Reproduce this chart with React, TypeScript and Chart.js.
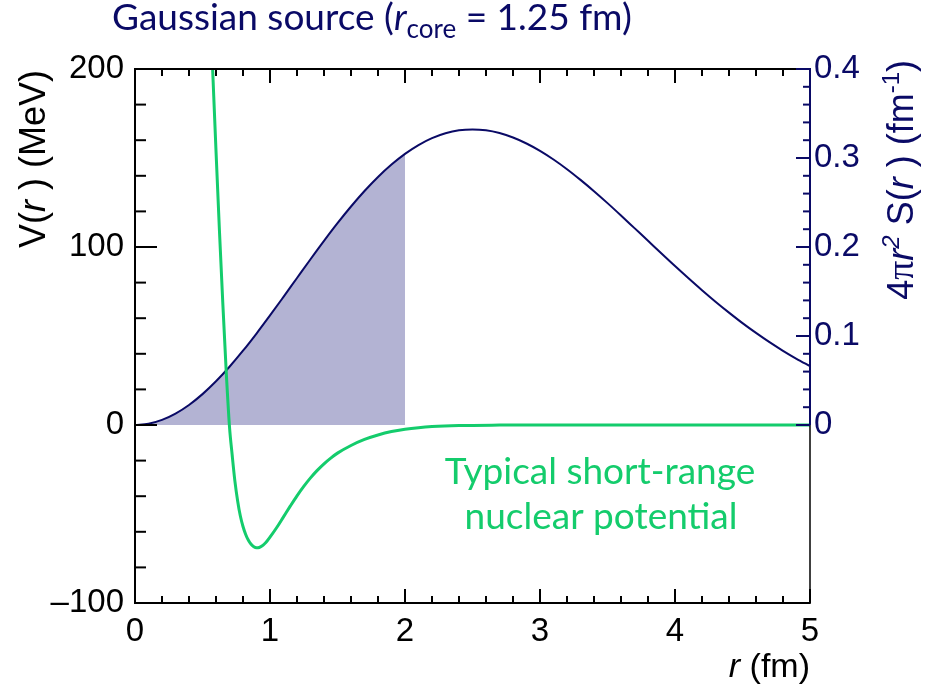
import React, { useEffect, useRef } from 'react';
import { Chart, registerables } from 'chart.js';

Chart.register(...registerables);

// ---- data ----
const sourceR = [
  0, 0.1, 0.2, 0.3, 0.4, 0.5, 0.6, 0.7, 0.8, 0.9,
  1.0, 1.1, 1.2, 1.3, 1.4, 1.5, 1.6, 1.7, 1.8, 1.9,
  2.0, 2.1, 2.2, 2.3, 2.4, 2.5, 2.6, 2.7, 2.8, 2.9,
  3.0, 3.1, 3.2, 3.3, 3.4, 3.5, 3.6, 3.7, 3.8, 3.9,
  4.0, 4.1, 4.2, 4.3, 4.4, 4.5, 4.6, 4.7, 4.8, 4.9, 5.0,
];
const sourceValues = [
  0, 0.00144, 0.00574, 0.01281, 0.02253, 0.03469, 0.04909, 0.06544, 0.08344, 0.10278,
  0.12308, 0.14401, 0.16519, 0.18628, 0.20689, 0.22675, 0.24549, 0.2629, 0.2787, 0.29263,
  0.30465, 0.31455, 0.3223, 0.3278, 0.3311, 0.3321, 0.3311, 0.328, 0.323, 0.3163,
  0.308, 0.2983, 0.2874, 0.2754, 0.2627, 0.2493, 0.2354, 0.2212, 0.207, 0.1927,
  0.1786, 0.1649, 0.1515, 0.1386, 0.1263, 0.1145, 0.1035, 0.0931, 0.0834, 0.0744, 0.0661,
];
const shadeMaxR = 2.0;

const potentialR = [
  0.575, 0.6, 0.625, 0.65, 0.675, 0.7, 0.72, 0.74, 0.76, 0.78,
  0.8, 0.82, 0.84, 0.86, 0.88, 0.9, 0.92, 0.94, 0.96, 0.98,
  1.0, 1.05, 1.1, 1.15, 1.2, 1.25, 1.3, 1.35, 1.4, 1.45,
  1.5, 1.6, 1.7, 1.8, 1.9, 2.0, 2.1, 2.2, 2.4, 2.7,
  3.0, 4.0, 5.0,
];
const potentialV = [
  200, 154, 110, 69, 31, -1, -17, -31.5, -42.5, -51,
  -57, -61.5, -64.8, -67, -68.4, -69, -68.8, -68, -66.7, -65,
  -63, -57.6, -51.6, -45.6, -39.8, -34.5, -29.7, -25.5, -21.8, -18.6,
  -15.8, -11.5, -8.1, -5.6, -3.7, -2.4, -1.5, -0.9, -0.3, -0.05,
  0, 0, 0,
];

const xMin = 0, xMax = 5, xMajor = 1, xMinor = 0.2;
const yMin = -100, yMax = 200, yMajor = 100, yMinor = 20;
const y2Min = -0.2, y2Max = 0.4, y2Major = 0.1, y2Minor = 0.02;

const NAVY = '#0a0a66';
const GREEN = '#14cc6c';
const FILL = '#b3b3d3';
const ARIAL = "'Liberation Sans', Arial, sans-serif";
const LATO = "Lato, 'Noto Sans', sans-serif";
const SERIF = "'Liberation Serif', 'Times New Roman', serif";

type Seg = { text: string; font: string; color: string; dy?: number };

function drawRich(ctx: CanvasRenderingContext2D, segs: Seg[], x: number, y: number, align: 'left' | 'right' | 'center') {
  let total = 0;
  const widths: number[] = [];
  for (const s of segs) {
    ctx.font = s.font;
    const w = ctx.measureText(s.text).width;
    widths.push(w);
    total += w;
  }
  let cx = align === 'right' ? x - total : align === 'center' ? x - total / 2 : x;
  ctx.textAlign = 'left';
  ctx.textBaseline = 'alphabetic';
  segs.forEach((s, i) => {
    ctx.font = s.font;
    ctx.fillStyle = s.color;
    ctx.fillText(s.text, cx, y + (s.dy || 0));
    cx += widths[i];
  });
}

const framePlugin = {
  id: 'rootFrame',
  afterDatasetsDraw(chart: any) {
    const ctx: CanvasRenderingContext2D = chart.ctx;
    const { left, right, top, bottom } = chart.chartArea;
    const xs = chart.scales.x, ys = chart.scales.y, y2 = chart.scales.y2;
    ctx.save();
    ctx.lineCap = 'butt';
    ctx.strokeStyle = '#000';
    ctx.lineWidth = 2;
    const nx = Math.round((xMax - xMin) / xMinor);
    for (let i = 0; i <= nx; i++) {
      const v = xMin + i * xMinor;
      const px = xs.getPixelForValue(v);
      const major = Math.abs(v / xMajor - Math.round(v / xMajor)) < 1e-6;
      const len = major ? 14 : 7;
      ctx.beginPath();
      ctx.moveTo(px, bottom);
      ctx.lineTo(px, bottom - len);
      ctx.moveTo(px, top);
      ctx.lineTo(px, top + len);
      ctx.stroke();
    }
    const ny = Math.round((yMax - yMin) / yMinor);
    for (let i = 0; i <= ny; i++) {
      const v = yMin + i * yMinor;
      const py = ys.getPixelForValue(v);
      const major = Math.abs(v / yMajor - Math.round(v / yMajor)) < 1e-6;
      const len = major ? 22 : 11;
      ctx.beginPath();
      ctx.moveTo(left, py);
      ctx.lineTo(left + len, py);
      ctx.stroke();
    }
    ctx.beginPath();
    ctx.moveTo(left, top - 1);
    ctx.lineTo(left, bottom + 1);
    ctx.moveTo(left - 1, bottom);
    ctx.lineTo(right, bottom);
    ctx.moveTo(left - 1, top);
    ctx.lineTo(right, top);
    ctx.stroke();
    const zero2 = y2.getPixelForValue(0);
    ctx.lineWidth = 1.5;
    ctx.beginPath();
    ctx.moveTo(right, zero2);
    ctx.lineTo(right, bottom + 1);
    ctx.stroke();
    ctx.strokeStyle = NAVY;
    ctx.lineWidth = 2;
    ctx.beginPath();
    ctx.moveTo(right, top - 1);
    ctx.lineTo(right, zero2);
    ctx.stroke();
    const n2 = Math.round((y2Max - 0) / y2Minor);
    const per = Math.round(y2Major / y2Minor);
    for (let i = 0; i <= n2; i++) {
      const v = i * y2Minor;
      const py = y2.getPixelForValue(v);
      const len = i % per === 0 ? 14 : 7;
      ctx.beginPath();
      ctx.moveTo(right, py);
      ctx.lineTo(right - len, py);
      ctx.stroke();
    }
    ctx.restore();
  },
  afterDraw(chart: any) {
    const ctx: CanvasRenderingContext2D = chart.ctx;
    const { right } = chart.chartArea;
    ctx.save();
    // title
    drawRich(ctx, [
      { text: 'Gaussian source (', font: `37px ${LATO}`, color: NAVY },
      { text: 'r', font: `italic 37px ${LATO}`, color: NAVY },
      { text: 'core', font: `26px ${LATO}`, color: NAVY, dy: 8 },
      { text: ' = 1.25 fm)', font: `37px ${LATO}`, color: NAVY },
    ], 112, 30, 'left');

    // annotation
    ctx.font = `37px ${LATO}`;
    ctx.fillStyle = GREEN;
    ctx.textAlign = 'center';
    ctx.textBaseline = 'alphabetic';
    ctx.fillText('Typical short-range', 600, 484);
    ctx.fillText('nuclear potential', 601, 529);

    // x title
    drawRich(ctx, [
      { text: 'r', font: `italic 34px ${ARIAL}`, color: '#000' },
      { text: ' (fm)', font: `34px ${ARIAL}`, color: '#000' },
    ], right, 677, 'right');

    // left y title
    ctx.save();
    ctx.translate(45, 70);
    ctx.rotate(-Math.PI / 2);
    drawRich(ctx, [
      { text: 'V(', font: `36px ${ARIAL}`, color: '#000' },
      { text: 'r', font: `italic 36px ${ARIAL}`, color: '#000' },
      { text: ' ) (MeV)', font: `36px ${ARIAL}`, color: '#000' },
    ], 0, 0, 'right');
    ctx.restore();

    // right y title
    ctx.save();
    ctx.translate(913, 60);
    ctx.rotate(-Math.PI / 2);
    drawRich(ctx, [
      { text: '4', font: `36px ${ARIAL}`, color: NAVY },
      { text: 'π', font: `38px ${SERIF}`, color: NAVY },
      { text: 'r', font: `italic 36px ${ARIAL}`, color: NAVY },
      { text: '2', font: `italic 24px ${ARIAL}`, color: NAVY, dy: -14 },
      { text: ' S(', font: `36px ${ARIAL}`, color: NAVY },
      { text: 'r', font: `italic 36px ${ARIAL}`, color: NAVY },
      { text: ' ) (fm', font: `36px ${ARIAL}`, color: NAVY },
      { text: '-1', font: `24px ${ARIAL}`, color: NAVY, dy: -14 },
      { text: ')', font: `36px ${ARIAL}`, color: NAVY },
    ], 0, 0, 'right');
    ctx.restore();
    ctx.restore();
  },
};

export default function App() {
  const canvasRef = useRef<HTMLCanvasElement | null>(null);

  useEffect(() => {
    const canvas = canvasRef.current;
    if (!canvas) return;
    const sourcePts = sourceR.map((r, i) => ({ x: r, y: sourceValues[i] }));
    const shadePts = sourcePts.filter((p) => p.x <= shadeMaxR + 1e-9);
    const potPts = potentialR.map((r, i) => ({ x: r, y: potentialV[i] }));

    const chart = new Chart(canvas, {
      type: 'line',
      data: {
        datasets: [
          {
            data: shadePts,
            yAxisID: 'y2',
            borderWidth: 0,
            borderColor: 'rgba(0,0,0,0)',
            backgroundColor: FILL,
            fill: 'origin',
            pointRadius: 0,
            cubicInterpolationMode: 'monotone',
            order: 3,
          },
          {
            data: sourcePts,
            yAxisID: 'y2',
            borderColor: NAVY,
            borderWidth: 2,
            fill: false,
            pointRadius: 0,
            cubicInterpolationMode: 'monotone',
            order: 2,
          },
          {
            data: potPts,
            yAxisID: 'y',
            borderColor: GREEN,
            borderWidth: 3,
            fill: false,
            pointRadius: 0,
            cubicInterpolationMode: 'monotone',
            order: 1,
          },
        ],
      },
      options: {
        responsive: false,
        animation: false,
        events: [],
        layout: { padding: { top: 69, left: 0, right: 0, bottom: 0 } },
        plugins: { legend: { display: false }, tooltip: { enabled: false }, title: { display: false } },
        scales: {
          x: {
            type: 'linear',
            min: xMin,
            max: xMax,
            grid: { display: false, drawTicks: false },
            border: { display: false },
            ticks: {
              stepSize: xMajor,
              color: '#000',
              font: { family: ARIAL, size: 33 },
              padding: 9,
              maxRotation: 0,
              callback: (v: any) => String(Math.round(Number(v))),
            },
            afterFit: (s: any) => { s.height = 86; },
          },
          y: {
            type: 'linear',
            position: 'left',
            min: yMin,
            max: yMax,
            grid: { display: false, drawTicks: false },
            border: { display: false },
            ticks: {
              stepSize: yMajor,
              color: '#000',
              font: { family: ARIAL, size: 33 },
              padding: 11,
              callback: (v: any) => {
                const n = Math.round(Number(v));
                return n < 0 ? '\u2013' + Math.abs(n) : String(n);
              },
            },
            afterFit: (s: any) => { s.width = 135; },
          },
          y2: {
            type: 'linear',
            position: 'right',
            min: y2Min,
            max: y2Max,
            grid: { display: false, drawTicks: false },
            border: { display: false },
            ticks: {
              stepSize: y2Major,
              color: NAVY,
              font: { family: ARIAL, size: 33 },
              padding: 4,
              callback: (v: any) => {
                const n = Math.round(Number(v) * 10) / 10;
                return n < -1e-9 ? '' : String(n);
              },
            },
            afterFit: (s: any) => { s.width = 118; },
          },
        },
      } as any,
      plugins: [framePlugin],
    });
    return () => chart.destroy();
  }, []);

  return (
    <div style={{ position: 'absolute', left: 0, top: 0, width: 928, height: 689, background: '#fff' }}>
      <canvas ref={canvasRef} width={928} height={689} style={{ display: 'block' }} />
    </div>
  );
}
